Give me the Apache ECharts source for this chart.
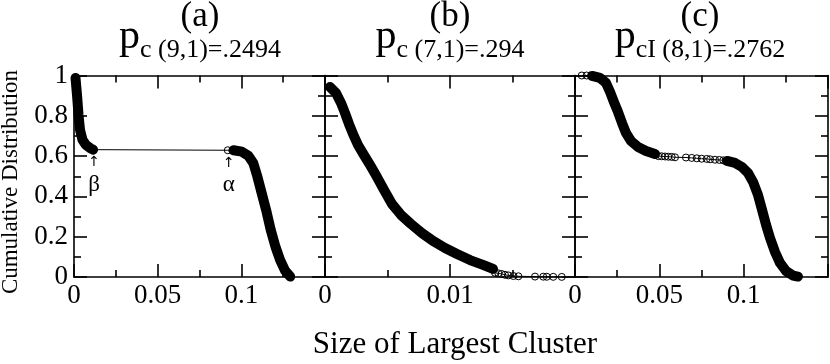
<!DOCTYPE html>
<html>
<head>
<meta charset="utf-8">
<script src="https://cdn.jsdelivr.net/npm/echarts@6/dist/echarts.min.js"></script>
<style>
  html, body { margin: 0; padding: 0; background: #fff; }
  #main { width: 830px; height: 364px; }
</style>
</head>
<body>
<div id="main"></div>
<script>
// panel (a): p_c(9,1)=.2494
var aBandLow = [[0.0009, 0.988], [0.0018, 0.903], [0.0027, 0.804], [0.0036, 0.730], [0.0051, 0.680],
  [0.0072, 0.655], [0.0096, 0.640], [0.0114, 0.632]]
var aCircles = [[0.0919, 0.629]]
var aBandHigh = [[0.0953, 0.629], [0.1003, 0.622], [0.1042, 0.602], [0.1072, 0.564], [0.1096, 0.498],
  [0.1122, 0.415], [0.1148, 0.333], [0.1176, 0.233], [0.1204, 0.150], [0.1232, 0.084],
  [0.1262, 0.031], [0.1292, 0.002]]

// panel (b): p_c(7,1)=.294
var bBand = [[0.0004, 0.943], [0.00088, 0.913], [0.00128, 0.864], [0.0016, 0.814], [0.00192, 0.759],
  [0.00224, 0.710], [0.00264, 0.655], [0.00312, 0.605], [0.0036, 0.556], [0.00416, 0.496],
  [0.00472, 0.432], [0.00536, 0.362], [0.00608, 0.308], [0.00688, 0.263], [0.00776, 0.218],
  [0.00864, 0.179], [0.0096, 0.144], [0.01056, 0.114], [0.0116, 0.084], [0.01264, 0.060],
  [0.01344, 0.040]]
var bCircles = [[0.0136, 0.021], [0.01387, 0.018], [0.01413, 0.015], [0.0144, 0.011], [0.01467, 0.008],
  [0.01507, 0.005], [0.01547, 0.0035], [0.0168, 0.002], [0.01746, 0.0015], [0.01774, 0.0012],
  [0.01826, 0.0008], [0.01894, 0.0005]]

// panel (c): p_cI(8,1)=.2762
var cTopCircles = [[0.004, 1.0], [0.0069, 1.0]]
var cBandTop = [[0.0101, 0.998], [0.0148, 0.988], [0.0184, 0.963], [0.0208, 0.918], [0.0231, 0.868],
  [0.0255, 0.819], [0.0279, 0.764], [0.0302, 0.715], [0.0332, 0.675], [0.0374, 0.645],
  [0.0421, 0.625], [0.0474, 0.610]]
var cMidCircles = [[0.0494, 0.600], [0.0514, 0.599], [0.0534, 0.598], [0.0553, 0.597], [0.0573, 0.596],
  [0.0593, 0.594], [0.0658, 0.593], [0.0692, 0.591], [0.0722, 0.589], [0.0751, 0.587],
  [0.0781, 0.586], [0.0801, 0.584], [0.083, 0.582], [0.0856, 0.581], [0.0879, 0.579]]
var cBandLow = [[0.0901, 0.576], [0.0949, 0.566], [0.099, 0.546], [0.1026, 0.516], [0.1056, 0.471],
  [0.1085, 0.407], [0.1109, 0.333], [0.1133, 0.258], [0.1156, 0.194], [0.1186, 0.124],
  [0.1216, 0.069], [0.1251, 0.030], [0.1293, 0.007], [0.1322, 0.002]]

var xMax = [0.15, 0.02, 0.15]
var xStep = [0.05, 0.01, 0.05]
var panelNames = ['(a)', '(b)', '(c)']
var panelSubs = ['c (9,1)=.2494', 'c (7,1)=.294', 'cI (8,1)=.2762']
var xName = 'Size of Largest Cluster'
var yName = 'Cumulative Distribution'

var FONT = '"Liberation Serif", "Times New Roman", serif'
var chart = echarts.init(document.getElementById('main'))

var grids = [
  { left: 74, top: 75.5, width: 251, height: 201.5, outerBoundsMode: 'none' },
  { left: 325, top: 75.5, width: 250, height: 201.5, outerBoundsMode: 'none' },
  { left: 575, top: 75.5, width: 253, height: 201.5, outerBoundsMode: 'none' }
]

function tickStyle () {
  return { color: '#000', width: 1.6 }
}

function xAx (i, pos) {
  return {
    type: 'value',
    gridIndex: i,
    position: pos,
    min: 0,
    max: xMax[i],
    interval: xStep[i],
    axisLine: { show: true, onZero: false, lineStyle: tickStyle() },
    axisTick: { show: true, inside: true, length: 13, lineStyle: tickStyle() },
    minorTick: { show: true, splitNumber: 2, length: 7, lineStyle: tickStyle() },
    splitLine: { show: false },
    axisLabel: {
      show: pos === 'bottom',
      showMaxLabel: false,
      margin: 5,
      color: '#000',
      fontFamily: FONT,
      fontSize: 27
    }
  }
}

function yAx (i, pos) {
  return {
    type: 'value',
    gridIndex: i,
    position: pos,
    min: 0,
    max: 1,
    interval: 0.2,
    axisLine: { show: true, onZero: false, lineStyle: tickStyle() },
    axisTick: { show: true, inside: true, length: 13, lineStyle: tickStyle() },
    minorTick: { show: true, splitNumber: 2, length: 7, lineStyle: tickStyle() },
    splitLine: { show: false },
    axisLabel: {
      show: i === 0 && pos === 'left',
      margin: 6,
      color: '#000',
      fontFamily: FONT,
      fontSize: 27
    }
  }
}

var xAxes = []
var yAxes = []
for (var i = 0; i < 3; i++) {
  xAxes.push(xAx(i, 'bottom'), xAx(i, 'top'))
  yAxes.push(yAx(i, 'left'), yAx(i, 'right'))
}

function band (i, data) {
  return {
    type: 'line',
    xAxisIndex: 2 * i,
    yAxisIndex: 2 * i,
    data: data,
    symbol: 'none',
    clip: false,
    silent: true,
    z: 3,
    lineStyle: { color: '#000', width: 10, cap: 'round', join: 'round' }
  }
}

function thin (i, data) {
  return {
    type: 'line',
    xAxisIndex: 2 * i,
    yAxisIndex: 2 * i,
    data: data,
    symbol: 'none',
    clip: false,
    silent: true,
    z: 2,
    lineStyle: { color: '#000', width: 1 }
  }
}

function circles (i, data) {
  return {
    type: 'scatter',
    xAxisIndex: 2 * i,
    yAxisIndex: 2 * i,
    data: data,
    symbol: 'circle',
    symbolSize: 7,
    clip: false,
    silent: true,
    z: 4,
    itemStyle: { color: 'rgba(0,0,0,0)', borderColor: '#000', borderWidth: 1, opacity: 1 }
  }
}

var series = [
  thin(0, aBandLow.concat(aCircles, aBandHigh)),
  band(0, aBandLow),
  band(0, aBandHigh),
  circles(0, aCircles),
  thin(1, bBand.concat(bCircles)),
  band(1, bBand),
  circles(1, bCircles),
  thin(2, cTopCircles.concat(cBandTop, cMidCircles, cBandLow)),
  band(2, cBandTop),
  band(2, cBandLow),
  circles(2, cTopCircles.concat(cMidCircles))
]

var centers = [200, 450, 700]
var graphics = []
for (var k = 0; k < 3; k++) {
  graphics.push({
    type: 'text', x: centers[k], y: 17,
    style: { text: panelNames[k], font: '35px ' + FONT, fill: '#000', align: 'center', verticalAlign: 'middle' }
  })
  graphics.push({
    type: 'text', x: centers[k], y: 35.5,
    style: {
      text: '{p|p}{s|' + panelSubs[k] + '}',
      fill: '#000',
      align: 'center',
      verticalAlign: 'middle',
      rich: {
        p: { fontSize: 42, fontFamily: FONT, lineHeight: 40, verticalAlign: 'top', fill: '#000' },
        s: { fontSize: 26, fontFamily: FONT, lineHeight: 26, verticalAlign: 'top', padding: [22, 0, 0, 0], fill: '#000' }
      }
    }
  })
}
graphics.push({
  type: 'text', x: 455, y: 345,
  style: { text: xName, font: '31px ' + FONT, fill: '#000', align: 'center', verticalAlign: 'middle' }
})
graphics.push({
  type: 'text', x: 11, y: 182, rotation: Math.PI / 2,
  style: { text: yName, font: '23px ' + FONT, fill: '#000', align: 'center', verticalAlign: 'middle' }
})

var option = {
  animation: false,
  backgroundColor: '#fff',
  grid: grids,
  xAxis: xAxes,
  yAxis: yAxes,
  series: series,
  graphic: graphics
}
chart.setOption(option)

// beta / alpha markers under the ends of the plateau in (a)
var beta = aBandLow[aBandLow.length - 1]
var alpha = aCircles[0]
var pb = chart.convertToPixel({ gridIndex: 0 }, beta)
var pa = chart.convertToPixel({ gridIndex: 0 }, alpha)
var marks = [[pb, '\u03b2'], [pa, '\u03b1']]
marks.forEach(function (m) {
  graphics.push({
    type: 'text', x: m[0][0] + 1, y: m[0][1] + 13,
    style: { text: '\u2191', font: '14px "DejaVu Sans", sans-serif', fill: '#000', align: 'center', verticalAlign: 'middle' }
  })
  graphics.push({
    type: 'text', x: m[0][0] + 1, y: m[0][1] + 35,
    style: { text: m[1], font: '23px ' + FONT, fill: '#000', align: 'center', verticalAlign: 'middle' }
  })
})
chart.setOption({ graphic: graphics })
</script>
</body>
</html>
